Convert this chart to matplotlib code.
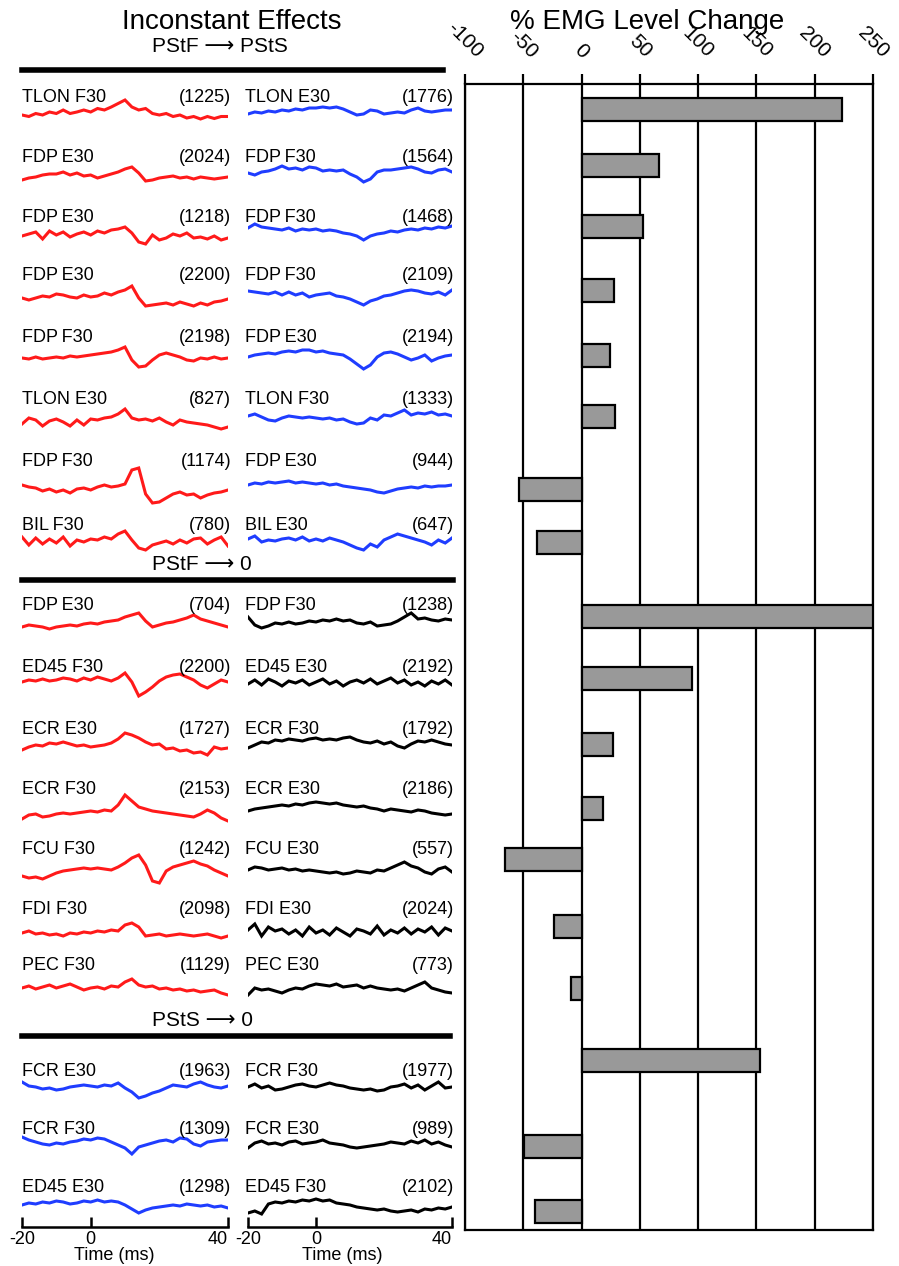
import numpy as np
import matplotlib.pyplot as plt
from matplotlib.lines import Line2D

plt.rcParams['font.family'] = ['Liberation Sans', 'DejaVu Sans']

# sample times of the averaged traces (ms)
t = np.arange(-20, 41, 2)
time_ticks = [-20, 0, 40]

# ---- section 1: PStF -> PStS ----
s1_names_left = ['TLON F30', 'FDP\u2009E30', 'FDP\u2009E30', 'FDP\u2009E30',
                 'FDP\u2009F30', 'TLON E30', 'FDP\u2009F30', 'BIL\u2009F30']
s1_n_left = [1225, 2024, 1218, 2200, 2198, 827, 1174, 780]
s1_names_right = ['TLON E30', 'FDP\u2009F30', 'FDP\u2009F30', 'FDP\u2009F30',
                  'FDP\u2009E30', 'TLON F30', 'FDP\u2009E30', 'BIL\u2009E30']
s1_n_right = [1776, 1564, 1468, 2109, 2194, 1333, 944, 647]
s1_left = [
    [0, -1.5, 1.5, 0, 3, 1.5, 5, 1.5, 3, 5, 3, 6.5, 5, 8, 11.5, 15, 8, 5, 6.5, 1.5, 0, 1.5, -1.5, 0, -3, -1.5, -4, -1.5, -3.5, -1.5, -1.5],
    [-3, -1, 0, 2, 3, 3, 5, 2, 4, 1, 2, -1, 1, 3, 5, 8, 10, 4, -4, -3, -1, 0, 1, -1, 0, -2, 0, -1, -2, -1, 0],
    [1, 3, 5, -2, 6, 2, 5, 0, 3, 5, 2, 6, 4, 7, 8, 10, 4, -5, -7, 2, -3, -1, 3, 1, 4, -1, 0, -2, 1, -3, -1],
    [2, 0, 2, 4, 3, 6, 5, 3, 2, 5, 3, 4, 7, 5, 8, 10, 14, 2, -6, -5, -4, -3, -5, -2, -4, -6, -3, -5, -2, -1, 1],
    [0, -1, 1, -1, 0, 1, 0, 2, 1, 2, 3, 4, 5, 6, 8, 11, -2, -9, -8, -2, 3, 5, 3, 1, -2, -3, 0, -1, 1, -1, 0],
    [-2, 4, 2, -4, 1, 3, 0, -4, 2, -3, 3, 2, 4, 5, 8, 13, 4, 2, 3, 1, 4, 0, -3, 2, 0, -1, -2, -3, -5, -7, -5],
    [5, 3, 2, -1, 1, -2, 0, -3, 1, 2, 0, 3, 5, 3, 4, 6, 20, 22, -4, -13, -12, -8, -4, -2, -5, -4, -8, -5, -3, -2, 0],
    [5, -3, 4, -2, 3, -1, 5, -4, 2, 0, 3, 2, 5, 3, 8, 11, 2, -6, -8, -3, -1, 1, -2, 2, -1, 3, 4, -2, 2, 5, -4],
]
s1_right = [
    [-2, 0, -1, 1, 0, 2, 1, 3, 2, 4, 4, 5, 4, 5, 3, 0, -3, -2, 2, 1, -2, -1, 0, -1, 2, 4, 1, 0, 1, 2, 2],
    [0, -2, 1, 2, 4, 7, 4, 5, 3, 6, 5, 2, 3, 2, 3, -1, -4, -9, -6, 1, 3, 3, 4, 5, 6, 4, 1, 0, 3, 4, 1],
    [2, 6, 3, 2, 1, 0, 2, -1, 1, 0, 1, -1, 0, -1, -3, -4, -6, -10, -6, -4, -3, -1, -2, 0, 1, 0, 2, 1, 3, 2, 4],
    [2, 1, 0, -1, 1, -2, 1, -2, 0, -4, -2, -1, 0, -3, -4, -6, -9, -12, -8, -6, -3, -2, 0, 2, 3, 2, 0, -1, 1, -2, 3],
    [-2, 0, 1, 2, 1, 3, 4, 3, 5, 5, 3, 4, 2, 1, 0, -4, -9, -14, -10, -2, 2, 3, 1, -2, -5, -3, 0, -6, -3, -1, 0],
    [2, 4, 1, -2, -3, 0, 2, 1, 0, 1, 0, -1, 0, -2, -1, -4, -6, -5, 0, -2, 3, 2, 5, 8, 3, 5, 4, 6, 3, 4, 2],
    [0, 2, 1, 3, 2, 3, 4, 2, 3, 2, 1, 2, 0, 1, -1, -2, -3, -4, -5, -7, -8, -6, -4, -3, -2, -3, -1, -2, -1, -1, 0],
    [3, 6, 0, 2, 1, 3, 4, 2, 5, 1, 3, 1, 4, 2, 0, -3, -6, -8, -2, -5, 2, 5, 8, 6, 4, 2, 0, -3, 2, -1, 4],
]

# ---- section 2: PStF -> 0 ----
s2_names_left = ['FDP\u2009E30', 'ED45 F30', 'ECR E30', 'ECR F30', 'FCU F30', 'FDI F30', 'PEC F30']
s2_n_left = [704, 2200, 1727, 2153, 1242, 2098, 1129]
s2_names_right = ['FDP\u2009F30', 'ED45 E30', 'ECR F30', 'ECR E30', 'FCU E30', 'FDI E30', 'PEC E30']
s2_n_right = [1238, 2192, 1792, 2186, 557, 2024, 773]
s2_left = [
    [-2, 0, -1, -2, -4, -2, -1, 0, -1, 1, 2, 1, 3, 4, 5, 8, 10, 12, 4, -2, 0, 2, 3, 5, 7, 10, 6, 4, 2, 0, -2],
    [0, 2, 1, 3, 1, 2, 4, 3, 1, 4, 2, 5, 3, 1, 4, 9, 0, -14, -10, -5, 1, 5, 7, 8, 5, 2, -3, -6, -2, 2, 0],
    [-3, 0, 2, 1, 4, 3, 5, 3, 1, 2, 0, 1, 2, 4, 8, 14, 12, 9, 5, 2, 3, -2, -1, -4, -3, -6, -5, -8, 0, -2, -1],
    [-4, 0, 1, -2, -1, 1, 2, 1, 2, 3, 4, 3, 5, 4, 10, 20, 14, 8, 6, 4, 3, 2, 1, 0, -1, -2, 1, 5, 2, -3, -6],
    [-3, -5, -4, -6, -3, 0, 2, 3, 4, 5, 4, 5, 4, 3, 6, 10, 15, 18, 8, -8, -10, 2, 6, 8, 10, 12, 9, 7, 3, 0, -3],
    [0, 2, -1, 0, -2, -1, -3, 0, -1, 1, 0, 2, 1, 3, 2, 8, 10, 6, -3, -2, -1, -3, -2, -1, -2, -3, -2, -1, -3, -5, -3],
    [0, 2, -1, 1, 3, 0, 2, 4, 1, -2, 0, 1, -1, 2, 1, 6, 9, 3, 1, 2, -1, 0, -2, -1, -3, -2, -4, -3, -2, -5, -7],
]
s2_right = [
    [6, -2, -5, -3, 0, -1, 1, -1, 0, 2, 1, 3, 2, 4, 2, 3, 0, -1, 1, -3, -2, -1, 2, 6, 10, 4, 5, 3, 2, 4, 3],
    [-1, 3, -2, 4, 1, -3, 2, 0, 3, -2, 1, 4, -1, 2, -3, 1, 3, 0, 4, -1, 2, 5, 0, 3, -2, 1, -3, 2, -1, 3, -2],
    [-5, -2, 1, 0, 3, 2, 4, 3, 2, 4, 5, 3, 4, 3, 5, 6, 3, 1, 0, 2, -1, 1, -3, -5, -1, 2, 1, 3, 1, -1, -2],
    [-3, -1, 0, 1, 2, 3, 2, 4, 3, 5, 6, 5, 4, 5, 3, 2, 1, 2, 0, -1, -3, -1, -2, -3, -4, -2, -3, -5, -6, -7, -6],
    [0, 3, 2, 0, 1, 2, 0, 1, -1, 0, -1, -2, -3, -2, -4, -3, -1, -2, -3, 0, -1, 2, 5, 8, 4, 2, -2, -4, 1, 3, -2],
    [2, 8, -4, 5, 1, 3, -2, 2, -4, 5, -1, 2, -3, 4, 0, -4, 3, 1, -2, 6, -3, 2, -1, 4, -2, 3, 0, 5, -3, 4, 1],
    [-5, 2, 0, 1, -1, -3, 0, 2, 1, 4, 6, 5, 4, 6, 3, 4, 5, 2, 4, 2, 1, 0, 1, -1, 2, 5, 8, 2, 0, -2, -3],
]

# ---- section 3: PStS -> 0 ----
s3_names_left = ['FCR E30', 'FCR F30', 'ED45 E30']
s3_n_left = [1963, 1309, 1298]
s3_names_right = ['FCR F30', 'FCR E30', 'ED45 F30']
s3_n_right = [1977, 989, 2102]
s3_left = [
    [6, 2, 1, -1, 0, -2, -1, 1, 2, 3, 2, 1, 3, 2, 5, 0, -4, -10, -8, -5, -3, 0, 3, 2, 1, 4, 6, 3, 1, 0, 2],
    [5, 2, 0, -2, -3, -1, -2, 0, 1, 3, 2, 4, 3, 0, -3, -6, -12, -5, -3, -1, 1, 2, 0, 4, 3, -2, -4, 0, 1, 2, 2],
    [0, 2, 1, 3, 2, 4, 3, 1, 2, 4, 3, 5, 3, 4, 3, 0, -4, -8, -5, -3, -2, -1, 0, -1, 1, 0, -1, 0, -2, -1, -3],
]
s3_right = [
    [0, 3, -1, 1, -3, -2, 0, 2, 3, 1, 0, 2, 4, 2, 1, -1, -2, -3, -2, -4, -3, 0, 1, 3, -1, 2, -3, 1, 5, -1, 0],
    [-3, 2, 4, 1, 2, 0, 3, 4, 1, 2, 3, 5, 2, 1, 0, -2, -3, -2, -1, 0, 1, 3, 2, 1, 4, 2, 5, 1, 3, 0, -2],
    [-6, -4, -7, 3, 5, 4, 6, 5, 7, 6, 8, 6, 7, 4, 3, 2, 0, -1, -2, -3, -2, -4, -5, -4, -3, -5, -2, -3, -1, -2, 0],
]

# % EMG level change, one bar per row (top to bottom)
pct_change = [223, 66, 53, 28, 24, 29, -54, -38,
              250, 95, 27, 18, -66, -24, -9,
              153, -49, -40]
pct_ticks = [-100, -50, 0, 50, 100, 150, 200, 250]

# ---- layout (pixels from top-left of the 899x1266 canvas) ----
W, H = 899, 1266
label_y = [97, 157, 217, 276, 337, 399, 462, 525, 606, 667, 729, 789, 849, 909, 966, 1072, 1130, 1188]
trace_y_left = [115, 177, 237, 300, 358, 422, 490, 542, 625, 682, 747, 815, 873, 933, 988, 1088, 1142, 1205]
trace_y_right = [112, 173, 230, 293, 355, 418, 485, 542, 623, 683, 743, 808, 870, 932, 990, 1087, 1145, 1207]
bar_y = [109.5, 165.5, 226.5, 290.5, 355.5, 416, 489, 542, 616.5, 678.5, 744, 808, 859, 926, 988.5, 1060, 1146.5, 1211.5]

fig = plt.figure(figsize=(W / 100, H / 100), dpi=100)


def box(x0, y0, w, h):
    return fig.add_axes([x0 / W, 1 - (y0 + h) / H, w / W, h / H])


def ftext(x, y, s, **kw):
    fig.text(x / W, 1 - y / H, s, **kw)


names_left = s1_names_left + s2_names_left + s3_names_left
names_right = s1_names_right + s2_names_right + s3_names_right
n_left = s1_n_left + s2_n_left + s3_n_left
n_right = s1_n_right + s2_n_right + s3_n_right
traces_left = s1_left + s2_left + s3_left
traces_right = s1_right + s2_right + s3_right
red, blue = '#ff1a1a', '#1f3dff'
colors_left = [red] * 15 + [blue] * 3
colors_right = [blue] * 8 + ['black'] * 10

for i in range(18):
    for x0, w, ty, tr, col in [(22, 206, trace_y_left[i], traces_left[i], colors_left[i]),
                               (248, 204, trace_y_right[i], traces_right[i], colors_right[i])]:
        ax = box(x0, ty - 26, w, 52)
        ax.patch.set_visible(False)
        ax.plot(t, tr, color=col, lw=2.2, solid_joinstyle='miter')
        ax.set_xlim(-20, 40)
        ax.set_ylim(-26, 26)
        ax.axis('off')
    ftext(22, label_y[i], names_left[i], fontsize=13, va='center')
    ftext(231, label_y[i], f'({n_left[i]})', fontsize=13, va='center', ha='right')
    ftext(245, label_y[i], names_right[i], fontsize=13, va='center')
    ftext(454, label_y[i], f'({n_right[i]})', fontsize=13, va='center', ha='right')

# section headers and separators
ftext(232, 22, 'Inconstant Effects', fontsize=20, ha='center', va='center')
for ty, ly, x1, s in [(47, 69.5, 443, 'PStF \u27f6 PStS'),
                      (565, 579.5, 453, 'PStF \u27f6 0'),
                      (1020, 1036, 450, 'PStS \u27f6 0')]:
    ftext(152, ty, s, fontsize=15, va='center')
    fig.add_artist(Line2D([22 / W, x1 / W], [1 - ly / H] * 2, lw=4, color='black'))

# time scale bars under the last row
for x0, w, lx in [(22, 206, 0.45), (248, 204, 0.46)]:
    ax = box(x0, 1226, w, 1)
    ax.set_xlim(-20, 40)
    for s in ['top', 'left', 'right']:
        ax.spines[s].set_visible(False)
    ax.spines['bottom'].set_linewidth(1.8)
    ax.set_yticks([])
    ax.set_xticks(time_ticks, ['-20', '0', '40'])
    ax.tick_params(axis='x', direction='in', length=7, width=1.8, labelsize=13, pad=3)
    ax.get_xticklabels()[2].set_ha('right')
    ax.set_xlabel('Time (ms)', fontsize=13)
    ax.xaxis.set_label_coords(lx, -20)

# bar chart
axb = box(465, 84, 408, 1146)
axb.barh(bar_y, pct_change, height=23, color='#999999', edgecolor='black', lw=1.6, zorder=3)
axb.set_xlim(-100, 250)
axb.set_ylim(1230, 84)
axb.set_yticks([])
axb.xaxis.tick_top()
axb.set_xticks(pct_ticks, [str(v) for v in pct_ticks], rotation=-45, fontsize=15)
axb.tick_params(axis='x', length=7, width=1.6, pad=9)
axb.grid(axis='x', color='black', lw=1.6, zorder=0)
axb.set_axisbelow(True)
for s in axb.spines.values():
    s.set_linewidth(1.6)
ftext(647, 22, '% EMG Level Change', fontsize=20, ha='center', va='center')

fig.savefig('out.png', dpi=100)
